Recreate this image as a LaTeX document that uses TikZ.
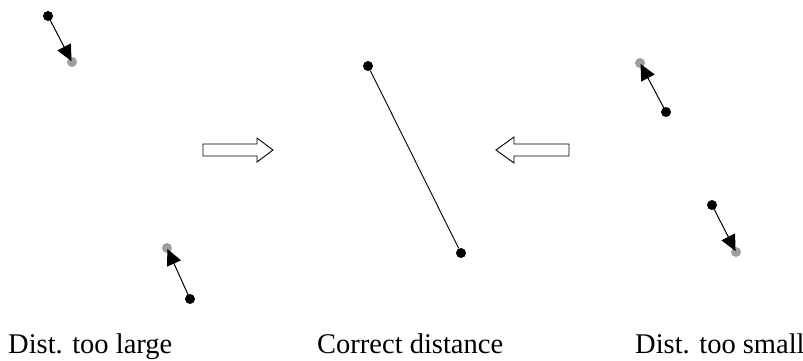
\documentclass[tikz,border=0pt]{standalone}
\usepackage{fontspec}
\setmainfont{Liberation Serif}
\usetikzlibrary{arrows.meta}
\begin{document}
\begin{tikzpicture}[x=1pt,y=-1pt,
  bdot/.style={circle,fill=black,inner sep=0pt,minimum size=10pt},
  gdot/.style={circle,fill=gray!75,inner sep=0pt,minimum size=10pt},
  move/.style={draw,line width=1pt,-{Triangle[length=16pt,width=15pt]},shorten >=1pt},
  hollow/.style={draw,line width=0.9pt,fill=white},
  lbl/.style={font=\fontsize{28.5}{32}\selectfont,anchor=base west,inner sep=0pt}]
\useasboundingbox (0,0) rectangle (803,360);
% left top
\node[gdot] (g1) at (72,62) {};
\node[bdot] (b1) at (48,16) {};
\draw[move] (b1.center) -- (g1.center);
% left bottom
\node[gdot] (g2) at (167,248) {};
\node[bdot] (b2) at (190,299) {};
\draw[move] (b2.center) -- (g2.center);
% middle
\node[bdot] (m1) at (368,66) {};
\node[bdot] (m2) at (461,253) {};
\draw[line width=0.9pt] (m1) -- (m2);
% right top
\node[gdot] (g3) at (640,63) {};
\node[bdot] (b3) at (666,112) {};
\draw[move] (b3.center) -- (g3.center);
% right bottom
\node[gdot] (g4) at (736,252) {};
\node[bdot] (b4) at (712,205) {};
\draw[move] (b4.center) -- (g4.center);
% hollow arrows
\draw[hollow] (203,144) -- (257,144) -- (257,138) -- (273,150) -- (257,162) -- (257,156) -- (203,156) -- cycle;
\draw[hollow] (569,144) -- (514,144) -- (514,137) -- (496,150) -- (514,163) -- (514,156) -- (569,156) -- cycle;
% labels
\node[lbl] (t1) at (8,353) {Dist. too large};
\node[lbl] (t2) at (317,353) {Correct distance};
\node[lbl] (t3) at (635,353) {Dist. too small};
\end{tikzpicture}
\end{document}
